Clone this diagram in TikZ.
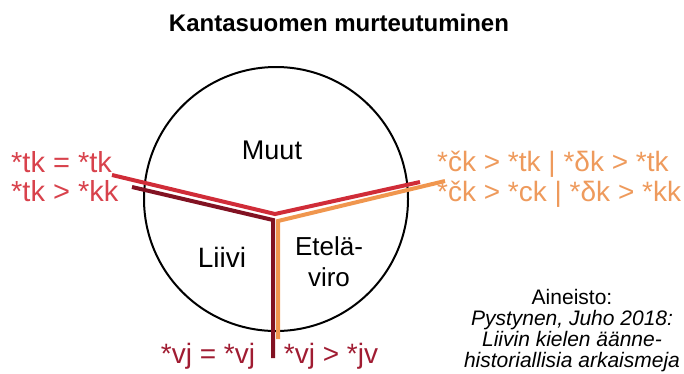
\documentclass[tikz,border=0pt]{standalone}
\usepackage{fontspec}
\setmainfont{Liberation Sans}

\definecolor{lineRed}{RGB}{208,44,56}
\definecolor{textRed}{RGB}{216,66,76}
\definecolor{darkRed}{RGB}{130,18,34}
\definecolor{textDark}{RGB}{160,28,50}
\definecolor{lineOrange}{RGB}{240,150,78}
\definecolor{textOrange}{RGB}{238,154,92}

\begin{document}
\begin{tikzpicture}[x=1pt, y=-1pt,
    txt/.style={font=\fontsize{27}{31}\selectfont, inner sep=0pt, anchor=base},
    border/.style={line width=4pt, line join=miter}]

    \useasboundingbox (0,0) rectangle (684,373);

    % 1. Title
    \node[txt, font=\bfseries\fontsize{24}{28}\selectfont] (title) at (339,31) {Kantasuomen murteutuminen};

    % 2. The circle of dialects
    \coordinate (C) at (276,199);
    \def\R{132} % radius of the circle
    \draw[line width=2pt] (C) circle (\R);

    % 3. Borders between the areas (each drawn twice, side by side)
    \coordinate (leftA) at (112,175);
    \coordinate (leftB) at (132,187);
    \coordinate (midA) at (275,214);
    \coordinate (midB) at (273,220);
    \coordinate (midC) at (278,221);
    \coordinate (rightA) at (420,182);
    \coordinate (rightC) at (445,181);
    \coordinate (downB) at (273,358);
    \coordinate (downC) at (278,339);

    \draw[border, darkRed] (leftB) -- (midB) -- (downB);
    \draw[border, lineOrange] (rightC) -- (midC) -- (downC);
    \draw[border, lineRed] (leftA) -- (midA) -- (rightA);

    % 4. Names of the areas
    \node[txt] (muut) at (272,159) {Muut};
    \node[txt, font=\fontsize{28}{31}\selectfont] (liivi) at (222,267) {Liivi};
    \node[txt, font=\fontsize{26}{31}\selectfont, align=center, anchor=north] (etela) at (329,236) {Etelä-\\viro};

    % 5. Sound changes at the borders
    \node[txt, textRed, font=\fontsize{29}{29}\selectfont, anchor=base west, align=left] (lefttxt) at (11,201)
        {*tk = *tk\\*tk > *kk};
    \node[txt, textOrange, font=\fontsize{28}{30}\selectfont, anchor=base west, align=left] (righttxt) at (437,201)
        {*čk > *tk | *δk > *tk\\*čk > *ck | *δk > *kk};
    \node[txt, textDark, font=\fontsize{28}{30}\selectfont] (vjleft) at (208,363) {*vj = *vj};
    \node[txt, textDark, font=\fontsize{28}{30}\selectfont] (vjright) at (331,363) {*vj > *jv};

    % 6. Source
    \node[font=\fontsize{21}{21}\selectfont, inner sep=0pt, align=center, anchor=base] (source) at (572,367)
        {Aineisto:\\\itshape Pystynen, Juho 2018:\\\itshape Liivin kielen äänne-\\\itshape historiallisia arkaismeja};

\end{tikzpicture}
\end{document}
